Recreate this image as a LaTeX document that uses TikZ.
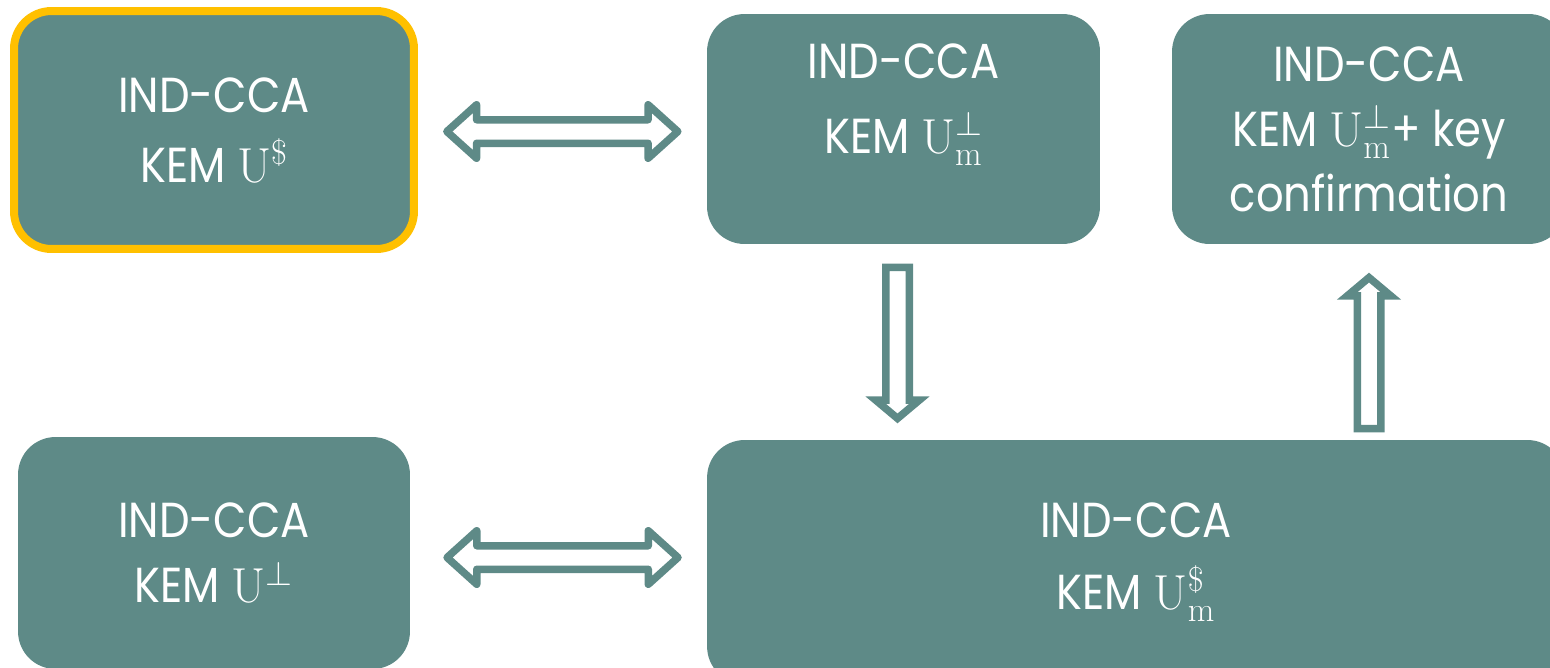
\RequirePackage{fix-cm}
\documentclass[tikz,border=0pt]{standalone}
\usepackage[no-math]{fontspec}
\setmainfont{Poppins}[FakeStretch = 0.88]
\usetikzlibrary{shapes.arrows, calc}

\definecolor{kemteal}{HTML}{5E8A87}
\definecolor{kemgold}{HTML}{FFC000}

\tikzset{
	kembox/.style = {rectangle, rounded corners = 0.75cm, fill = kemteal, text = white, align = center, font = \fontsize{28}{37}\selectfont},
	equivarrow/.style = {double arrow, draw = kemteal, fill = white, line width = 0.15cm, line join = round, inner sep = 0.16cm, double arrow head extend = 0.3cm, double arrow tip angle = 84, minimum height = 4.62cm},
	implarrow/.style = {single arrow, draw = kemteal, fill = white, line width = 0.15cm, inner sep = 0.16cm, single arrow head extend = 0.2cm, single arrow tip angle = 100, minimum height = 3.02cm}
}

\begin{document}
\begin{tikzpicture}[x = 0.02cm, y = -0.02cm]

	\useasboundingbox (0, 0) rectangle (1550, 667);
	\clip (0, 0) rectangle (1550, 667);

	% Boxes

	\node [kembox, draw = kemgold, line width = 0.16cm, minimum width = 8cm, minimum height = 4.76cm] (usdollar) at (214, 130) {IND-CCA\\[2.8pt]KEM $\mathrm{U}^{\$}$};
	\node [kembox, minimum width = 7.86cm, minimum height = 4.6cm] (umbot) at (903.5, 129) {IND-CCA\\[5.7pt]KEM $\mathrm{U}^{\bot}_{\mathrm{m}}$\\[-13.7pt]\strut};
	\node [kembox, minimum width = 7.88cm, minimum height = 4.6cm] (umbotkc) at (1369, 129) {IND-CCA\\KEM $\mathrm{U}^{\bot}_{\mathrm{m}}$+ key\\confirmation};
	\node [kembox, minimum width = 7.84cm, minimum height = 4.64cm] (ubot) at (214, 553) {IND-CCA\\KEM $\mathrm{U}^{\bot}$};
	\node [kembox, minimum width = 17.16cm, minimum height = 4.88cm] (umdollar) at (1136, 562) {IND-CCA\\[4pt]KEM $\mathrm{U}^{\$}_{\mathrm{m}}$};

	% Arrows

	\node [equivarrow] (eqtop) at ($(usdollar.east)!0.5!(umbot.west) + (0, 2)$) {};
	\node [equivarrow] (eqbot) at ($(ubot.east)!0.5!(umdollar.west) + (4, 0)$) {};
	\node [implarrow, rotate = -90] (implmid) at ($(umbot.south)!0.5!(umbot.south |- umdollar.north) + (-6, -4)$) {};
	\node [implarrow, rotate = 90] (implkc) at ($(umbotkc.south)!0.5!(umbotkc.south |- umdollar.north) + (0, 16)$) {};

\end{tikzpicture}
\end{document}
